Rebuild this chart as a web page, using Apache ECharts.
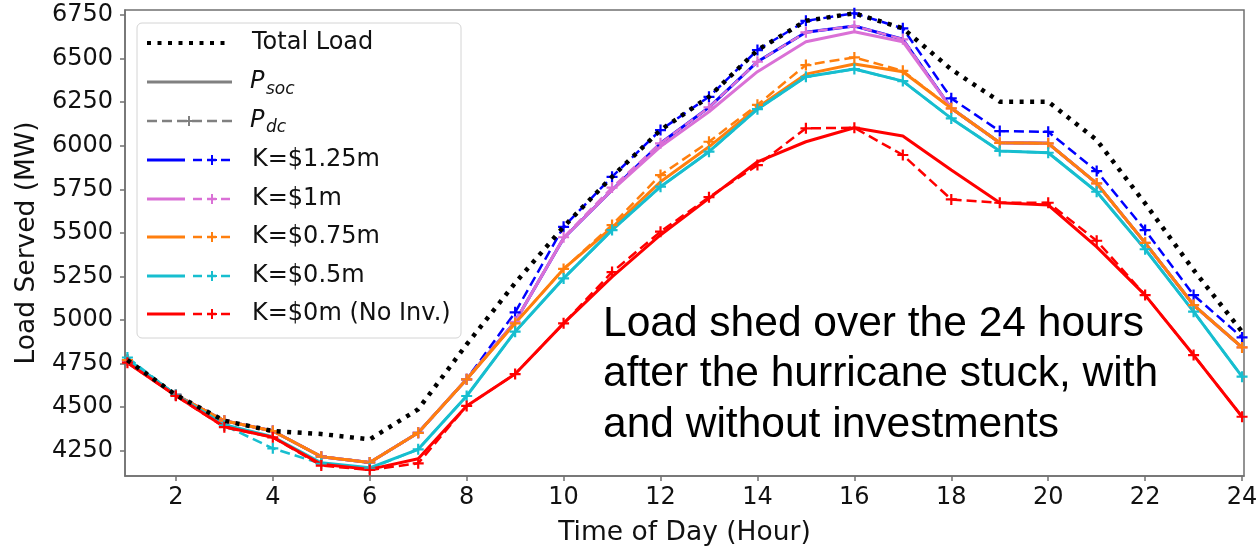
<!DOCTYPE html>
<html>
<head>
<meta charset="utf-8">
<script src="https://cdn.jsdelivr.net/npm/echarts@6/dist/echarts.min.js"></script>
<style>
  html, body { margin: 0; padding: 0; background: #fff; }
  #myChart { width: 1260px; height: 550px; }
</style>
</head>
<body>
<div id="myChart"></div>
<script>
// hour of the day
const hours = [1, 2, 3, 4, 5, 6, 7, 8, 9, 10, 11, 12, 13, 14, 15, 16, 17, 18, 19, 20, 21, 22, 23, 24];

// load served (MW)
const totalLoad = [4770, 4570, 4422, 4363, 4346, 4315, 4488, 4860, 5212, 5535, 5822, 6090, 6281, 6549, 6717, 6760, 6674, 6438, 6253, 6253, 6033, 5669, 5287, 4933];
const socK125 = [4770, 4570, 4422, 4363, 4216, 4183, 4353, 4660, 4990, 5469, 5746, 6014, 6220, 6482, 6651, 6687, 6611, 6215, 6017, 6014, 5784, 5443, 5086, 4843];
const dcK125 = [4770, 4570, 4422, 4363, 4216, 4183, 4353, 4660, 5044, 5535, 5822, 6090, 6281, 6549, 6717, 6760, 6674, 6272, 6084, 6080, 5855, 5516, 5143, 4900];
const socK1 = [4770, 4570, 4422, 4363, 4216, 4183, 4353, 4660, 4990, 5469, 5746, 5995, 6195, 6425, 6597, 6654, 6597, 6215, 6017, 6014, 5784, 5443, 5086, 4843];
const dcK1 = [4770, 4570, 4422, 4363, 4216, 4183, 4353, 4660, 4990, 5475, 5760, 6014, 6220, 6482, 6651, 6687, 6611, 6215, 6017, 6014, 5784, 5443, 5086, 4843];
const socK075 = [4770, 4570, 4422, 4363, 4216, 4183, 4353, 4660, 4981, 5293, 5531, 5793, 5994, 6220, 6411, 6469, 6425, 6215, 6017, 6014, 5784, 5443, 5086, 4843];
const dcK075 = [4770, 4570, 4422, 4363, 4216, 4183, 4353, 4660, 4981, 5293, 5545, 5832, 6023, 6235, 6463, 6507, 6430, 6215, 6017, 6014, 5784, 5443, 5086, 4843];
const socK05 = [4775, 4570, 4400, 4330, 4181, 4152, 4258, 4564, 4933, 5239, 5516, 5765, 5966, 6210, 6396, 6440, 6371, 6157, 5970, 5960, 5736, 5406, 5048, 4675];
const dcK05 = [4785, 4570, 4395, 4264, 4175, 4148, 4258, 4564, 4933, 5239, 5516, 5765, 5966, 6210, 6396, 6440, 6371, 6157, 5970, 5960, 5736, 5406, 5048, 4675];
const socK0 = [4755, 4565, 4388, 4327, 4172, 4143, 4204, 4507, 4690, 4981, 5248, 5488, 5698, 5908, 6023, 6103, 6056, 5861, 5673, 5660, 5420, 5143, 4799, 4445];
const dcK0 = [4755, 4565, 4385, 4327, 4165, 4140, 4178, 4507, 4690, 4981, 5275, 5507, 5705, 5889, 6100, 6103, 5947, 5692, 5673, 5673, 5455, 5143, 4799, 4445];

// tick labels
const xTicks = [2, 4, 6, 8, 10, 12, 14, 16, 18, 20, 22, 24];
const yTicks = [4250, 4500, 4750, 5000, 5250, 5500, 5750, 6000, 6250, 6500, 6750];

const cases = [
  { name: 'K=$1.25m', color: '#0000ff', soc: socK125, dc: dcK125 },
  { name: 'K=$1m', color: '#da70d6', soc: socK1, dc: dcK1 },
  { name: 'K=$0.75m', color: '#ff7f0e', soc: socK075, dc: dcK075 },
  { name: 'K=$0.5m', color: '#17becf', soc: socK05, dc: dcK05 },
  { name: 'K=$0m (No Inv.)', color: '#ff0000', soc: socK0, dc: dcK0 }
];

const plus = 'path://M4,0H6V4H10V6H6V10H4V6H0V4H4Z';
const pair = arr => arr.map((v, i) => [hours[i], v]);

const series = [];
cases.forEach(c => {
  series.push({
    name: c.name + ' soc',
    type: 'line',
    data: pair(c.soc),
    symbol: 'none',
    lineStyle: { color: c.color, width: 3 }
  });
  series.push({
    name: c.name + ' dc',
    type: 'line',
    data: pair(c.dc),
    symbol: plus,
    symbolSize: 11,
    itemStyle: { color: c.color },
    lineStyle: { color: c.color, width: 2.5, type: [10, 5] }
  });
});
series.push({
  name: 'Total Load',
  type: 'line',
  data: pair(totalLoad),
  symbol: 'none',
  z: 5,
  lineStyle: { color: '#000', width: 4.5, type: [4, 6.5] }
});

// legend drawn by hand (solid + dashed sample per row)
const legendRows = [43, 82, 121, 160, 199, 237, 276, 314];
const graphic = [
  {
    type: 'rect',
    shape: { x: 137, y: 23, width: 324, height: 315, r: 5 },
    style: { fill: 'rgba(255,255,255,0.85)', stroke: '#d4d4d4', lineWidth: 1 },
    z: 10
  }
];
const txt = (x, y, text, extra) => ({
  type: 'text',
  x: x,
  y: y,
  z: 11,
  style: Object.assign(
    { text: text, fontSize: 24, fontFamily: 'DejaVu Sans', fill: '#111', verticalAlign: 'middle' },
    extra || {}
  )
});
const seg = (x1, x2, y, color, width, dash) => ({
  type: 'line',
  z: 11,
  shape: { x1: x1, y1: y, x2: x2, y2: y },
  style: { stroke: color, lineWidth: width, lineDash: dash || null }
});
const mark = (x, y, color) => [
  { type: 'line', z: 12, shape: { x1: x - 5, y1: y, x2: x + 5, y2: y }, style: { stroke: color, lineWidth: 2 } },
  { type: 'line', z: 12, shape: { x1: x, y1: y - 5, x2: x, y2: y + 5 }, style: { stroke: color, lineWidth: 2 } }
];

graphic.push(seg(147, 228, legendRows[0], '#000', 4, [4, 6.5]));
graphic.push(txt(252, legendRows[0], 'Total Load'));

graphic.push(seg(147, 232, legendRows[1], '#808080', 3));
graphic.push(txt(250, legendRows[1], 'P', { fontStyle: 'italic' }));
graphic.push(txt(266, legendRows[1] + 8, 'soc', { fontStyle: 'italic', fontSize: 17 }));

graphic.push(seg(147, 232, legendRows[2], '#808080', 2.5, [10, 5]));
graphic.push(...mark(189, legendRows[2], '#808080'));
graphic.push(txt(250, legendRows[2], 'P', { fontStyle: 'italic' }));
graphic.push(txt(266, legendRows[2] + 7, 'dc', { fontStyle: 'italic', fontSize: 17 }));

cases.forEach((c, i) => {
  const y = legendRows[i + 3];
  graphic.push(seg(147, 185, y, c.color, 3));
  graphic.push(seg(193, 231, y, c.color, 2.5, [9, 5]));
  graphic.push(...mark(212, y, c.color));
  graphic.push(txt(252, y, c.name));
});

// annotation
const note = ['Load shed over the 24 hours', 'after the hurricane stuck, with', 'and without investments'];
note.forEach((line, i) => {
  graphic.push({
    type: 'text',
    x: 603,
    y: 324 + i * 50.5,
    z: 11,
    style: { text: line, fontSize: 42.5, fontFamily: 'Liberation Sans', fill: '#000', verticalAlign: 'middle' }
  });
});

const option = {
  animation: false,
  backgroundColor: '#fff',
  grid: {
    left: 125,
    right: 16,
    top: 10,
    bottom: 74,
    outerBoundsMode: 'none',
    show: true,
    borderColor: '#707070',
    borderWidth: 1.5
  },
  xAxis: {
    type: 'value',
    min: 0.95,
    max: 24.04,
    name: 'Time of Day (Hour)',
    nameLocation: 'middle',
    nameGap: 44,
    nameMoveOverlap: false,
    nameTextStyle: { fontSize: 26.5, fontFamily: 'DejaVu Sans', color: '#111' },
    axisLine: { show: true, lineStyle: { color: '#707070', width: 1.5 } },
    axisTick: { show: true, length: 5, customValues: xTicks, lineStyle: { color: '#707070', width: 1.5 } },
    axisLabel: {
      customValues: xTicks,
      formatter: v => String(v),
      fontSize: 24,
      fontFamily: 'DejaVu Sans',
      color: '#111',
      margin: 10
    },
    splitLine: { show: false }
  },
  yAxis: {
    type: 'value',
    min: 4105,
    max: 6779,
    name: 'Load Served (MW)',
    nameLocation: 'middle',
    nameRotate: 90,
    nameGap: 84,
    nameMoveOverlap: false,
    nameTextStyle: { fontSize: 26.5, fontFamily: 'DejaVu Sans', color: '#111' },
    axisLine: { show: true, lineStyle: { color: '#707070', width: 1.5 } },
    axisTick: { show: true, length: 5, customValues: yTicks, lineStyle: { color: '#707070', width: 1.5 } },
    axisLabel: {
      customValues: yTicks,
      formatter: v => String(v),
      fontSize: 24,
      fontFamily: 'DejaVu Sans',
      color: '#111',
      margin: 12
    },
    splitLine: { show: false }
  },
  series: series,
  graphic: graphic
};

const myChart = echarts.init(document.getElementById('myChart'));
myChart.setOption(option, true);
</script>
</body>
</html>
